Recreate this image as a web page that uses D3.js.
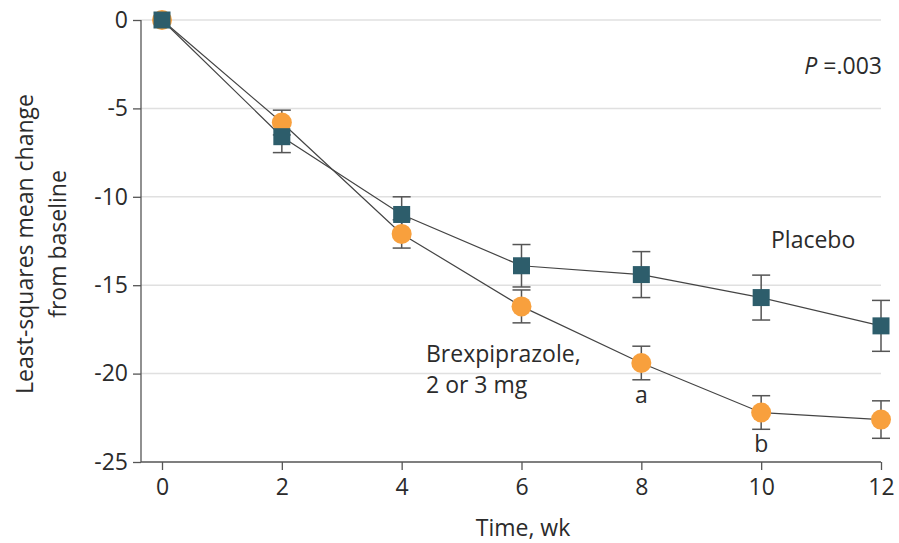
<!DOCTYPE html>
<html><head><meta charset="utf-8">
<script src="https://cdn.jsdelivr.net/npm/d3@7"></script>
<style>body{margin:0;background:#fff}svg{display:block}text{font-family:"Open Sans",sans-serif;fill:#2b2b2b}</style>
</head><body><svg id="c" width="899" height="543"></svg>
<script>
const weeks = [0, 2, 4, 6, 8, 10, 12];
const placeboMean = [0, -6.6, -11.0, -13.9, -14.4, -15.7, -17.3];
const placeboSE = [0, 0.9, 1.0, 1.2, 1.3, 1.27, 1.44];
const brexMean = [0, -5.8, -12.1, -16.2, -19.4, -22.2, -22.6];
const brexSE = [0, 0.7, 0.8, 0.93, 0.95, 0.95, 1.06];
const yTicks = [0, -5, -10, -15, -20, -25];
const xTicks = [0, 2, 4, 6, 8, 10, 12];

const svg = d3.select("#c");
const x = d3.scaleLinear().domain([0, 12]).range([162, 881]);
const y = d3.scaleLinear().domain([0, -25]).range([20, 462]);
const axisX0 = 141;
const fmt = d => String(d);

// gridlines
svg.append("g").selectAll("line").data(yTicks.filter(d => d !== -25)).join("line")
  .attr("x1", axisX0).attr("x2", 881).attr("y1", d => y(d)).attr("y2", d => y(d))
  .attr("stroke", "#e0e0e0").attr("stroke-width", 1.5);

// y axis
const ya = svg.append("g").attr("transform", `translate(${axisX0},0)`)
  .call(d3.axisLeft(y).tickValues(yTicks).tickSize(8).tickPadding(5).tickFormat(fmt));
ya.select(".domain").attr("stroke", "#555").attr("stroke-width", 1.3).attr("d", `M-0,${y(0)}V${y(-25)}`);
ya.selectAll(".tick line").attr("stroke", "#555").attr("stroke-width", 1.3);
ya.selectAll(".tick text").attr("font-size", 23).attr("fill", "#2b2b2b").style("font-family", "Open Sans");

// x axis
const xa = svg.append("g").attr("transform", `translate(0,${y(-25)})`)
  .call(d3.axisBottom(x).tickValues(xTicks).tickSize(8).tickPadding(9).tickFormat(fmt));
xa.select(".domain").attr("stroke", "#555").attr("stroke-width", 1.3).attr("d", `M${axisX0},0H881`);
xa.selectAll(".tick line").attr("stroke", "#555").attr("stroke-width", 1.3);
xa.selectAll(".tick text").attr("font-size", 23).attr("fill", "#2b2b2b").style("font-family", "Open Sans");

const line = d3.line().x(d => x(d[0])).y(d => y(d[1]));
const plac = weeks.map((w, i) => [w, placeboMean[i], placeboSE[i]]);
const brex = weeks.map((w, i) => [w, brexMean[i], brexSE[i]]);

function errorBars(data) {
  const g = svg.append("g").attr("stroke", "#555").attr("stroke-width", 1.5);
  data.filter(d => d[2] > 0).forEach(d => {
    g.append("line").attr("x1", x(d[0])).attr("x2", x(d[0])).attr("y1", y(d[1] + d[2])).attr("y2", y(d[1] - d[2]));
    [d[1] + d[2], d[1] - d[2]].forEach(v => {
      g.append("line").attr("x1", x(d[0]) - 9).attr("x2", x(d[0]) + 9).attr("y1", y(v)).attr("y2", y(v));
    });
  });
}
errorBars(plac);
errorBars(brex);

svg.append("path").datum(plac).attr("d", line).attr("fill", "none").attr("stroke", "#444").attr("stroke-width", 1.2);
svg.append("path").datum(brex).attr("d", line).attr("fill", "none").attr("stroke", "#444").attr("stroke-width", 1.2);

svg.append("g").selectAll("circle").data(brex).join("circle")
  .attr("cx", d => x(d[0])).attr("cy", d => y(d[1])).attr("r", 10).attr("fill", "#F8A03D");
svg.append("g").selectAll("rect").data(plac).join("rect")
  .attr("x", d => x(d[0]) - 8.5).attr("y", d => y(d[1]) - 8.5).attr("width", 17).attr("height", 17).attr("fill", "#2D5D6B");

// annotations
const ann = svg.append("g").attr("font-size", 23);
ann.append("text").attr("x", 771).attr("y", 248).text("Placebo");
ann.append("text").attr("x", 426).attr("y", 362).text("Brexpiprazole,");
ann.append("text").attr("x", 426).attr("y", 393).text("2 or 3 mg");
ann.append("text").attr("x", x(8)).attr("y", 403).attr("text-anchor", "middle").text("a");
ann.append("text").attr("x", x(10)).attr("y", 452).attr("text-anchor", "middle").text("b");
const p = ann.append("text").attr("x", 882).attr("y", 74).attr("text-anchor", "end");
p.append("tspan").attr("font-style", "italic").text("P");
p.append("tspan").text(" =.003");

// axis titles
svg.append("text").attr("x", 523).attr("y", 536).attr("text-anchor", "middle").attr("font-size", 23).text("Time, wk");
const yl = svg.append("text").attr("transform", "translate(0,244) rotate(-90)").attr("text-anchor", "middle").attr("font-size", 23);
yl.append("tspan").attr("x", 0).attr("y", 33).text("Least-squares mean change");
yl.append("tspan").attr("x", 0).attr("y", 66).text("from baseline");
</script></body></html>
